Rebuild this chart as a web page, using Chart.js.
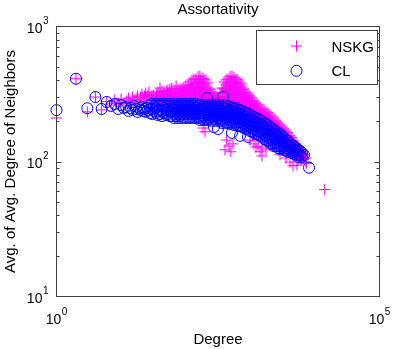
<!DOCTYPE html>
<html>
<head>
<meta charset="utf-8">
<script src="https://cdn.jsdelivr.net/npm/chart.js@4/dist/chart.umd.min.js"></script>
<style>
html,body{margin:0;padding:0;background:#fff;}
#wrap{width:419px;height:349px;}
</style>
</head>
<body>
<div id="wrap"><canvas id="c" width="419" height="349"></canvas></div>
<script>
// ---- data (degree -> avg. of avg. degree of neighbors) ----
const seriesNames = ['NSKG', 'CL'];

const nskgDegrees = [1,2,3,4,5,6,7,8,9,10,11,12,13,14,15,16,17,18,19,20,21,22,23,24,25,26,27,28,
  30,32,35,37,40,43,46,50,53,57,61,66,71,76,82,88,94,101,109,117,125,134,144,155,166,179,185,192,199,206,221,238,255,274,294,316,340,365,392,406,421,430,452,468,485,500,521,540,559,601,645,693,744,799,858,921,989,1063,1141,1225,1316,1413,1517,1630,1750,1879,2018,2167,2328,2500,2685,2883,3096,3324,3571,3834,4117,4421,4580,4748,5099,5280,5476,5880,6316,6782,7283,7400,14200];
const nskgValues = [[210],[410],[233],[300],[241],[278],[267],[286],[271],[290],[267],[281],[295],[271],[300],[281],[290],[306],[276],[300],[316],[286],[306],[322],[295],[311],[327],[300],
  [306,285,267],[311,290,271],[316,295,276],[327,306,285,267],[350,322,300,281],[333,311,290,271],[327,306,285,267],[333,311,290,271],[339,316,295,276],[344,322,300,281],
  [350,327,306,285,267],[339,316,295,276],[362,327,306,285,267],[344,322,300,281],[344,322,300,281,262],[350,327,306,285],[356,333,311,290,271],[362,339,316,295,276],
  [369,344,322,300,281,262],[388,350,327,306,285],[402,362,339,316,295,276],[409,375,350,327,306,285],[409,382,356,333,311,290,271],[425,388,362,339,316,295,276],
  [430,402,375,350,327,306,285,267],[416,388,362,339,316,295,276],[177],[409,375,350,327,306,285,267],[166],[402,356,333,311,290,271],[382,339,316,295,276],
  [344,322,300,281,262],[327,306,285,267],[316,295,276],[306,285,267],[295,276],[322,300,281,262],[350,322,300,281,262],[388,344,322,300,281,262],[122],
  [402,369,344,322,300,281,262],[144],[409,382,356,333,311,290,271],[130],[425,388,362,339,316,295,276,258],[118],[430,402,375,350,327,306,285,267],[135],
  [420,388,362,339,316,295,276,258],[409,382,356,333,311,290,271,253],[402,369,344,322,300,281,262,245],[388,356,333,311,290,271,253],[375,339,316,295,276,258,241],
  [344,322,300,281,262,245],[327,306,285,267,249,233],[316,295,276,258,241],[306,285,267,249,233,144],[295,276,258,241,225],[281,262,245,229,214,135],
  [271,253,237,221,207,128],[262,245,229,214,130],[253,237,221,207,193,118],[245,229,214,200,126,110],[241,225,210,196,183],[233,217,203,190,122],
  [229,214,200,186,174],[221,207,193,180],[214,200,186,174,163],[207,193,180,168],[200,186,174,163,152],[193,180,168,157],[186,174,163,152,142,112],
  [180,168,157,147],[174,163,152,142,132],[168,157,147,137,106],[163,152,142,132,124],[155,144,135,126,99],[150,139,130,122,114],[93],[142,132,124,116],
  [135,126,118,110],[94],[128,120,112,104],[122,114,106,103],[118,110,103],[112,104,106],[106,99],[97],[62]];

const clDegrees = [1,2,3,4,5,6,7,8,9,10,11,12,13,14,15,16,17,18,19,20,21,22,23,24,25,26,27,28,
  30,32,35,37,40,43,46,50,53,57,61,66,71,76,82,88,94,101,109,117,125,134,144,155,166,179,192,206,215,221,238,255,274,294,316,340,365,380,392,421,452,485,521,559,601,645,693,744,799,858,921,989,1063,1141,1225,1316,1413,1517,1630,1750,1879,2018,2167,2328,2500,2685,2883,3096,3324,3571,3834,4117,4421,4748,5099,5476,5880,6316,6782,8100];
const clValues = [[240],[410],[248],[300],[245],[276],[258],[267],[245],[262],[249],[253],[237],[249],[241],[258],[245],[233],[249],[241],[253],[237],[245],[233],[249],[241],[258],[229],
  [267,245,225],[258,237],[267,249,229],[258,237,221],[267,245,225],[258,237,217],[267,249,229],[258,241,221],[267,245,225],[258,237,217],
  [267,249,233,217],[258,241,225,210],[267,249,233,217],[258,241,225,210],[267,249,233,217],[258,241,225,210],[267,249,233,214],[258,241,225,210],
  [267,249,233,214],[258,241,225,210],[267,249,233,214],[258,241,225,210],[267,249,233,214],[258,241,225,210],[262,245,229,214,203],[253,237,221,207],
  [262,245,229,214,203],[253,237,221,207],[295],[262,245,229,214,203],[253,237,221,207],[262,245,229,214,200],[253,237,221,207,180],[262,245,229,214,200],
  [253,237,221,207,174],[262,245,229,214,200],[253,237,221,207,193],[302],[262,245,229,214,200],[253,237,221,207,193],[258,241,225,210,196],[249,233,217,203,190],
  [253,237,221,207,193,163],[245,229,214,200,186],[249,233,217,203,190],[241,225,210,196,183],[241,225,210,196,183,155],[237,221,207,193,180],[233,217,203,190,177],
  [229,214,200,186,174],[229,214,200,186,174,152],[221,207,193,180,168],[217,203,190,177,166],[214,200,186,174,163],[210,196,183,171,160],[207,193,180,168,157],
  [203,190,177,166,155],[200,186,174,163,152],[193,180,168,157,147],[190,177,166,155,144],[186,174,163,152,142],[180,168,157,147,137],[177,166,155,144,135],
  [171,160,150,139,130],[168,157,147,137,130],[163,152,142,132,126],[160,150,139,130,124],[155,144,135,126],[150,139,130,122],[144,135,126,120],[142,132,124,118],
  [137,128,120],[132,124,116],[130,122,114],[126,118,112],[122,114,108],[120,112],[116,108],[112],[90]];

const xTickValues = [1, 100000];
const xTickLabels = ['10\u2070', '10\u2075'];
const yTickValues = [10, 100, 1000];
const yTickLabels = ['10\u00B9', '10\u00B2', '10\u00B3'];

const titleText = 'Assortativity';
const xTitle = 'Degree';
const yTitle = 'Avg. of Avg. Degree of Neighbors';

// ---- build point tables ----
function toPoints(degrees, values) {
  const pts = [];
  degrees.forEach((d, i) => values[i].forEach(v => pts.push({x: d, y: v})));
  return pts;
}

const FONT = "'Liberation Sans', Arial, Helvetica, sans-serif";
Chart.defaults.font.family = FONT;
Chart.defaults.color = '#000';

const AXIS = '#404040';
const SUP = '\u2070\u00B9\u00B2\u00B3\u2074\u2075\u2076\u2077\u2078\u2079';

function splitLabel(s) {
  let b = '', e = '';
  for (const ch of s) {
    const k = SUP.indexOf(ch);
    if (k >= 0) e += String(k); else b += ch;
  }
  return [b, e];
}

function drawPowerLabel(ctx, s, x, baseline, align) {
  const [b, e] = splitLabel(s);
  ctx.font = '14px ' + FONT;
  const wb = ctx.measureText(b).width;
  ctx.font = '10px ' + FONT;
  const we = ctx.measureText(e).width;
  const gap = 0.5;
  const total = wb + gap + we;
  const left = align === 'center' ? x - total / 2 : x - total;
  ctx.textAlign = 'left';
  ctx.textBaseline = 'alphabetic';
  ctx.fillStyle = '#000';
  ctx.font = '14px ' + FONT;
  ctx.fillText(b, left, baseline);
  ctx.font = '10px ' + FONT;
  ctx.fillText(e, left + wb + gap, baseline - 9);
}

const framePlugin = {
  id: 'frame',
  afterDatasetsDraw(chart) {
    const {ctx, chartArea: a, scales} = chart;
    const y = scales.y, x = scales.x;
    ctx.save();
    ctx.strokeStyle = AXIS;
    ctx.lineWidth = 1;
    ctx.beginPath();
    [10, 100].forEach(dec => {
      for (let k = 1; k <= 9; k++) {
        const v = dec * k;
        if (v <= 10 || v >= 1000) continue;
        const py = Math.round(y.getPixelForValue(v)) + 0.5;
        const len = (k === 1) ? 5 : 3;
        ctx.moveTo(a.left, py); ctx.lineTo(a.left + len, py);
        ctx.moveTo(a.right, py); ctx.lineTo(a.right - len, py);
      }
    });
    ctx.stroke();
    ctx.strokeRect(a.left, a.top, a.right - a.left, a.bottom - a.top);
    x.ticks.forEach(t => {
      const i = xTickValues.indexOf(t.value);
      drawPowerLabel(ctx, xTickLabels[i], x.getPixelForValue(t.value), a.bottom + 27.5, 'center');
    });
    y.ticks.forEach(t => {
      const i = yTickValues.indexOf(t.value);
      drawPowerLabel(ctx, yTickLabels[i], a.left - 8, y.getPixelForValue(t.value) + 6, 'right');
    });
    ctx.restore();
  },
  afterDraw(chart) {
    const {ctx} = chart;
    const bx = 256.5, by = 30.5, bw = 121, bh = 54;
    ctx.save();
    ctx.fillStyle = '#fff';
    ctx.fillRect(bx, by, bw, bh);
    ctx.strokeStyle = AXIS;
    ctx.lineWidth = 1;
    ctx.strokeRect(bx, by, bw, bh);
    const rows = [46, 70.8];
    chart.data.datasets.forEach((ds, i) => {
      const cx = 296.5, cy = rows[i];
      const r = ds.pointRadius;
      ctx.strokeStyle = ds.borderColor;
      ctx.lineWidth = 1;
      ctx.beginPath();
      if (ds.pointStyle === 'cross') {
        ctx.moveTo(cx - r, cy); ctx.lineTo(cx + r, cy);
        ctx.moveTo(cx, cy - r); ctx.lineTo(cx, cy + r);
      } else {
        ctx.arc(cx, cy, r, 0, Math.PI * 2);
      }
      ctx.stroke();
      ctx.fillStyle = '#000';
      ctx.font = '15px ' + FONT;
      ctx.textAlign = 'left';
      ctx.textBaseline = 'alphabetic';
      ctx.fillText(ds.label, 331.5, cy + 5.6);
    });
    ctx.restore();
  }
};

new Chart(document.getElementById('c'), {
  type: 'scatter',
  data: {
    datasets: [
      {
        label: seriesNames[0],
        data: toPoints(nskgDegrees, nskgValues),
        pointStyle: 'cross',
        pointRadius: 5.5,
        pointHoverRadius: 5.5,
        borderColor: '#ff00ff',
        backgroundColor: 'rgba(0,0,0,0)',
        pointBorderWidth: 1,
        borderWidth: 1,
        showLine: false,
        clip: false,
        order: 1
      },
      {
        label: seriesNames[1],
        data: toPoints(clDegrees, clValues),
        pointStyle: 'circle',
        pointRadius: 5.5,
        pointHoverRadius: 5.5,
        borderColor: '#0000ff',
        backgroundColor: 'rgba(0,0,0,0)',
        pointBorderWidth: 1,
        borderWidth: 1,
        showLine: false,
        clip: false,
        order: 0
      }
    ]
  },
  options: {
    responsive: false,
    animation: false,
    events: [],
    devicePixelRatio: 1,
    layout: {padding: {top: 0, right: 39.5, bottom: 0, left: 0}},
    plugins: {
      legend: {display: false},
      tooltip: {enabled: false},
      title: {
        display: true,
        text: titleText,
        fullSize: false,
        color: '#000',
        font: {size: 15, weight: 'normal', family: FONT},
        padding: {top: 1, bottom: 7.5}
      }
    },
    scales: {
      x: {
        type: 'logarithmic',
        position: 'bottom',
        min: 1,
        max: 100000,
        grid: {display: false, drawTicks: false},
        border: {display: false},
        afterBuildTicks: s => { s.ticks = xTickValues.map(v => ({value: v})); },
        afterFit: s => { s.height = 52.5; },
        ticks: {
          display: false,
          autoSkip: false,
          maxRotation: 0,
          callback: v => xTickLabels[xTickValues.indexOf(v)]
        },
        title: {
          display: true,
          text: xTitle,
          color: '#000',
          font: {size: 15, family: FONT},
          padding: {top: 0, bottom: 0}
        }
      },
      y: {
        type: 'logarithmic',
        position: 'left',
        min: 10,
        max: 1000,
        grid: {display: false, drawTicks: false},
        border: {display: false},
        afterBuildTicks: s => { s.ticks = yTickValues.map(v => ({value: v})); },
        afterFit: s => { s.width = 56.5; },
        ticks: {
          display: false,
          autoSkip: false,
          callback: v => yTickLabels[yTickValues.indexOf(v)]
        },
        title: {
          display: true,
          text: yTitle,
          color: '#000',
          font: {size: 15, family: FONT},
          padding: {top: 2, bottom: 0}
        }
      }
    }
  },
  plugins: [framePlugin]
});
</script>
</body>
</html>
